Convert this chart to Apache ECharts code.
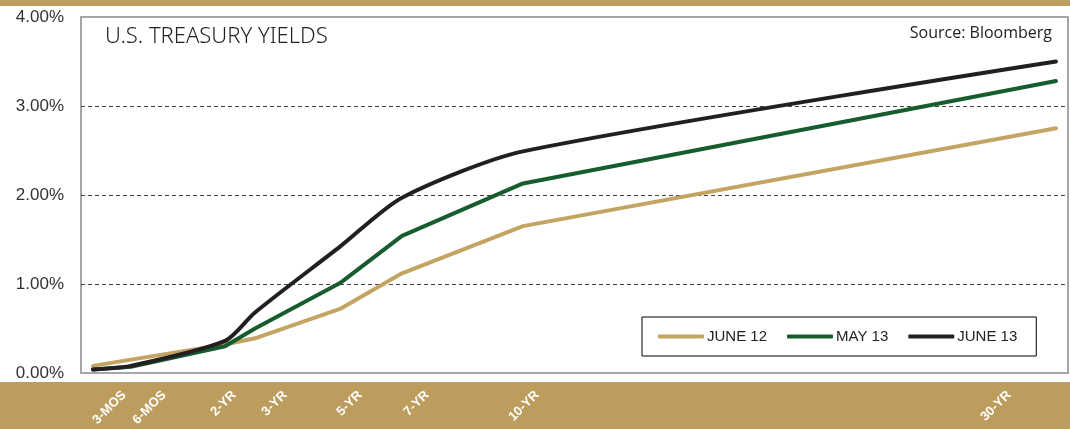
<!DOCTYPE html>
<html>
<head>
<meta charset="utf-8">
<script src="https://cdn.jsdelivr.net/npm/echarts@6/dist/echarts.min.js"></script>
<style>
html,body{margin:0;padding:0;background:#fff;}
#chart{width:1070px;height:429px;}
</style>
</head>
<body>
<div id="chart"></div>
<script>
// Maturities and their positions along the chart's horizontal axis (arbitrary axis units)
var maturities = ['3-MOS', '6-MOS', '2-YR', '3-YR', '5-YR', '7-YR', '10-YR', '30-YR'];
var maturityPos = [12, 50, 144, 174, 259, 321, 442, 975];
// Where each maturity label sits on the axis (labels in the original are offset from the points)
var labelPos = [43, 83, 153, 204, 279, 346, 456, 928];

// Yields in percent
var june12 = [0.08, 0.15, 0.32, 0.39, 0.72, 1.12, 1.65, 2.75];
var may13  = [0.04, 0.07, 0.30, 0.50, 1.01, 1.54, 2.13, 3.28];
var june13 = [0.04, 0.08, 0.36, 0.68, 1.42, 1.97, 2.49, 3.50];

var yTicks = [0, 1, 2, 3, 4];

function pairs(vals) {
  return vals.map(function (v, i) { return [maturityPos[i], v]; });
}

var GOLD = '#C3A463';
var BAND = '#BD9D5D';
var GREEN = '#175C2E';
var BLACK = '#231F20';

var chart = echarts.init(document.getElementById('chart'), null, {renderer: 'canvas'});
chart.setOption({
  animation: false,
  backgroundColor: '#fff',
  graphic: {
    elements: [
      {type: 'rect', z: -10, shape: {x: 0, y: 0, width: 1070, height: 6}, style: {fill: BAND}},
      {type: 'rect', z: -10, shape: {x: 0, y: 382, width: 1070, height: 47}, style: {fill: BAND}}
    ]
  },
  title: [
    {
      text: 'U.S. TREASURY YIELDS',
      left: 100, top: 21,
      textStyle: {fontFamily: 'Noto Sans', fontWeight: 300, fontSize: 22, color: '#231F20'}
    },
    {
      text: 'Source: Bloomberg',
      right: 13, top: 20,
      textStyle: {fontFamily: 'Open Sans', fontWeight: 'normal', fontSize: 16, color: '#222'}
    }
  ],
  legend: {
    left: 642, top: 317,
    orient: 'horizontal',
    borderColor: '#000', borderWidth: 1,
    padding: [12, 19, 12, 16],
    itemWidth: 46, itemHeight: 4, itemGap: 20,
    icon: 'roundRect',
    textStyle: {fontFamily: 'Liberation Sans, Arial', fontSize: 15, color: '#222', padding: [0, 0, 0, -2]},
    data: ['JUNE 12', 'MAY 13', 'JUNE 13']
  },
  grid: {
    left: 81, right: 2, top: 17, bottom: 56,
    show: true, borderColor: '#A6A6A6', borderWidth: 2, backgroundColor: 'transparent'
  },
  xAxis: {
    type: 'value', min: 0, max: 987,
    axisLine: {show: false}, axisTick: {show: false}, splitLine: {show: false},
    axisLabel: {
      customValues: labelPos,
      rotate: 45, margin: 20,
      color: '#fff', fontFamily: 'Liberation Sans, Arial', fontWeight: 'bold', fontSize: 13,
      formatter: function (v) {
        var i = labelPos.indexOf(v);
        return i >= 0 ? maturities[i] : '';
      }
    }
  },
  yAxis: {
    type: 'value', min: yTicks[0], max: yTicks[yTicks.length - 1], interval: 1,
    axisLine: {show: false}, axisTick: {show: false},
    splitLine: {show: true, showMinLine: false, showMaxLine: false,
      lineStyle: {color: '#444', width: 1, type: [4, 3]}},
    axisLabel: {
      margin: 17, color: '#333', fontFamily: 'Liberation Sans, Arial', fontSize: 17,
      formatter: function (v) { return v.toFixed(2) + '%'; }
    }
  },
  series: [
    {
      name: 'JUNE 12', type: 'line', data: pairs(june12), showSymbol: false, symbol: 'none',
      color: GOLD, lineStyle: {width: 4, color: GOLD, cap: 'round', join: 'round'}
    },
    {
      name: 'MAY 13', type: 'line', data: pairs(may13), showSymbol: false, symbol: 'none',
      color: GREEN, lineStyle: {width: 4, color: GREEN, cap: 'round', join: 'round'}
    },
    {
      name: 'JUNE 13', type: 'line', data: pairs(june13), showSymbol: false, symbol: 'none',
      smooth: 0.25,
      color: BLACK, lineStyle: {width: 4, color: BLACK, cap: 'round', join: 'round'}
    }
  ]
});
</script>
</body>
</html>
